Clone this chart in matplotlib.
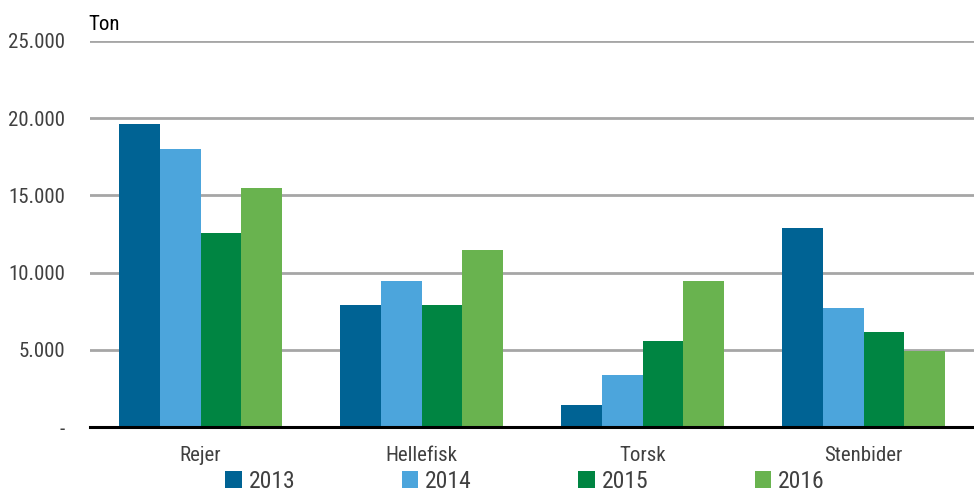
import matplotlib
matplotlib.use("Agg")
import matplotlib.pyplot as plt
import numpy as np
from matplotlib import font_manager

categories = ["Rejer", "Hellefisk", "Torsk", "Stenbider"]
years = ["2013", "2014", "2015", "2016"]
v2013 = [19600, 7900, 1420, 12880]
v2014 = [18000, 9450, 3370, 7700]
v2015 = [12570, 7900, 5570, 6150]
v2016 = [15450, 11450, 9450, 4900]
yticks = [0, 5000, 10000, 15000, 20000, 25000]
ytick_labels = ["-", "5.000", "10.000", "15.000", "20.000", "25.000"]
colors = ["#006394", "#4ca5dc", "#008542", "#69b34f"]

fl = font_manager.fontManager.ttflist
names = {f.name for f in fl}
fam = None
for cand in ["Liberation Sans Narrow", "Roboto Condensed", "Open Sans Condensed", "DejaVu Sans Condensed"]:
    if cand in names:
        fam = cand
        break
stretch = "normal"
if fam is None:
    if any(f.name == "DejaVu Sans" and f.stretch == "condensed" for f in fl):
        fam = "DejaVu Sans"
        stretch = "condensed"
    else:
        fam = "DejaVu Sans"
plt.rcParams['font.family'] = [fam, 'DejaVu Sans']
plt.rcParams['font.stretch'] = stretch

fig = plt.figure(figsize=(9.74, 4.92), dpi=100)
ax = fig.add_axes([90/974, 1 - 427/492, 884/974, 386/492])

series = [v2013, v2014, v2015, v2016]
x = np.arange(len(categories))
w = 0.184
for i, (vals, c, yr) in enumerate(zip(series, colors, years)):
    ax.bar(x + (i - 1.5) * w, vals, width=w, color=c, label=yr, zorder=3)

ax.set_xlim(-0.5, 3.5)
ax.set_ylim(0, 25000)
ax.set_yticks(yticks)
ax.set_yticklabels(ytick_labels, fontsize=15, color="#404040")
ax.set_xticks(x)
ax.set_xticklabels(categories, fontsize=15, color="#404040")
ax.tick_params(axis='both', length=0)
ax.tick_params(axis='y', pad=18)
ax.tick_params(axis='x', pad=14)
for y in yticks[1:]:
    ax.axhline(y, color="#a6a6a6", lw=2, zorder=1)
for s in ["top", "right", "left"]:
    ax.spines[s].set_visible(False)
ax.spines["bottom"].set_color("black")
ax.spines["bottom"].set_linewidth(2.2)
ax.spines["bottom"].set_zorder(4)

fig.text(88/974, 1 - 24/492, "Ton", fontsize=15, color="black", va="center", ha="left")

leg = fig.legend(loc="center", bbox_to_anchor=(525/974, 1 - 481/492), ncol=4,
                 frameon=False, fontsize=17, handlelength=0.7, handleheight=0.7,
                 handletextpad=0.3, columnspacing=4.5, borderpad=0.1)
for t in leg.get_texts():
    t.set_color("#404040")

fig.savefig("out.png", dpi=100)
